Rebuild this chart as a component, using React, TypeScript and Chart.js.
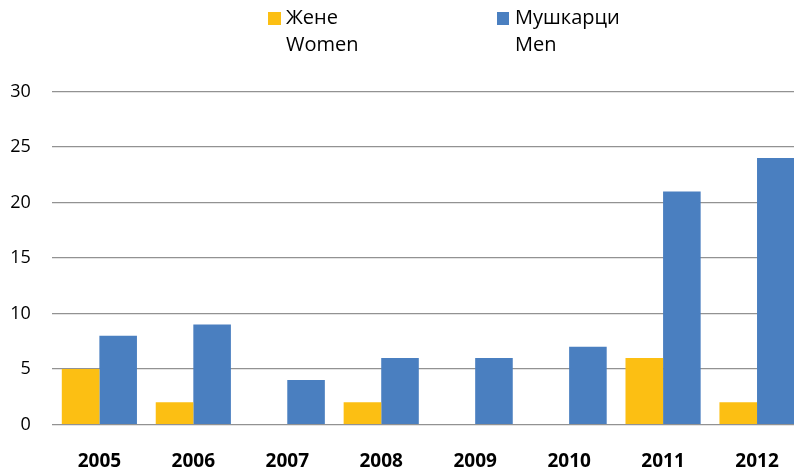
import React, { useEffect, useRef } from "react";
import { Chart, registerables } from "chart.js";

Chart.register(...registerables);

const categories = ["2005", "2006", "2007", "2008", "2009", "2010", "2011", "2012"];
const women = [5, 2, 0, 2, 0, 0, 6, 2];
const men = [8, 9, 4, 6, 6, 7, 21, 24];
const womenLabel = ["Жене", "Women"];
const menLabel = ["Мушкарци", "Men"];
const yMin = 0;
const yMax = 30;
const yStep = 5;

const WOMEN_COLOR = "#FCBF13";
const MEN_COLOR = "#4A7FC0";
const FONT = "'Open Sans', 'DejaVu Sans', sans-serif";

export default function App() {
  const canvasRef = useRef<HTMLCanvasElement | null>(null);

  useEffect(() => {
    const canvas = canvasRef.current;
    if (!canvas) return;
    const chart = new Chart(canvas, {
      type: "bar",
      data: {
        labels: categories,
        datasets: [
          {
            label: womenLabel.join(" "),
            data: women,
            backgroundColor: WOMEN_COLOR,
            categoryPercentage: 0.8,
            barPercentage: 1,
          },
          {
            label: menLabel.join(" "),
            data: men,
            backgroundColor: MEN_COLOR,
            categoryPercentage: 0.8,
            barPercentage: 1,
          },
        ],
      },
      options: {
        responsive: false,
        animation: false,
        layout: { padding: { top: 91.5, left: 0, right: 0, bottom: 0 } },
        plugins: {
          legend: { display: false },
          tooltip: { enabled: false },
        },
        scales: {
          x: {
            grid: { display: false },
            border: { display: false },
            ticks: {
              color: "#000",
              font: { family: FONT, size: 19, weight: "bold" },
              padding: 18,
              maxRotation: 0,
              autoSkip: false,
            },
            afterFit: (s: any) => {
              s.height = 42.5;
            },
          },
          y: {
            min: yMin,
            max: yMax,
            ticks: {
              stepSize: yStep,
              color: "#000",
              font: { family: FONT, size: 18 },
              padding: 21.5,
            },
            grid: { color: "#929292", drawTicks: false, lineWidth: 1.2 },
            border: { display: false },
            afterFit: (s: any) => {
              s.width = 52.4;
            },
          },
        },
      },
    });
    return () => chart.destroy();
  }, []);

  const legendText: React.CSSProperties = {
    position: "absolute",
    top: 2.5,
    fontFamily: FONT,
    fontSize: 20,
    lineHeight: "27.5px",
    color: "#000",
    whiteSpace: "nowrap",
  };
  const square: React.CSSProperties = {
    position: "absolute",
    top: 12,
    width: 12.5,
    height: 12.5,
  };

  return (
    <div
      style={{
        position: "fixed",
        left: 0,
        top: 0,
        width: 794,
        height: 467,
        overflow: "hidden",
        background: "#fff",
      }}
    >
      <canvas ref={canvasRef} width={804} height={467} style={{ display: "block", width: 804, height: 467 }} />
      <div style={{ ...square, left: 268, background: WOMEN_COLOR }} />
      <div style={{ ...legendText, left: 286 }}>
        {womenLabel[0]}
        <br />
        {womenLabel[1]}
      </div>
      <div style={{ ...square, left: 496.5, background: MEN_COLOR }} />
      <div style={{ ...legendText, left: 515 }}>
        {menLabel[0]}
        <br />
        {menLabel[1]}
      </div>
    </div>
  );
}
